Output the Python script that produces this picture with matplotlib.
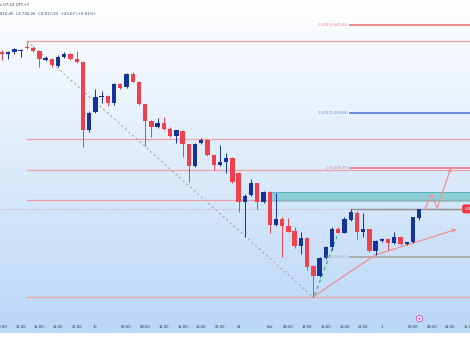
import numpy as np
import matplotlib
matplotlib.use('Agg')
import matplotlib.pyplot as plt
from matplotlib.colors import LinearSegmentedColormap

# hourly candles (bar index 0..67)
opens = [5542.2, 5530.2, 5540.8, 5545.4, 5563.9, 5557.9, 5545.4, 5504.0, 5510.0, 5478.6,
         5519.2, 5531.6, 5507.2, 5493.4, 5181.5, 5264.4, 5332.1, 5338.1, 5304.5, 5392.0,
         5377.3, 5437.2, 5404.0, 5299.9, 5224.3, 5195.3, 5212.4, 5188.4, 5153.9, 5176.9,
         5117.0, 5015.6, 5121.6, 5135.4, 5066.3, 5020.2, 5035.5, 5051.1, 4985.7, 4851.2,
         4882.0, 4935.9, 4848.4, 4897.2, 4743.8, 4770.1, 4740.6, 4717.6, 4648.5, 4685.3,
         4554.9, 4508.9, 4590.4, 4641.1, 4724.0, 4708.4, 4766.9, 4797.7, 4710.2, 4724.0,
         4625.4, 4671.5, 4679.3, 4659.5, 4689.9, 4654.9, 4664.1, 4774.3]
highs = [5547.8, 5545.4, 5557.9, 5552.4, 5577.7, 5566.2, 5550.1, 5524.7, 5515.5, 5527.0,
         5539.5, 5538.5, 5546.8, 5497.1, 5269.0, 5370.4, 5362.6, 5342.7, 5400.3, 5400.3,
         5445.5, 5446.4, 5409.5, 5301.3, 5227.6, 5236.8, 5240.0, 5195.3, 5183.8, 5181.5,
         5119.3, 5121.6, 5146.0, 5142.3, 5070.9, 5112.4, 5074.2, 5057.1, 4988.0, 4886.6,
         4954.4, 4939.6, 4900.5, 4900.5, 4892.6, 4780.7, 4774.7, 4733.2, 4713.0, 4688.5,
         4559.5, 4596.4, 4647.1, 4736.0, 4733.2, 4780.7, 4817.5, 4809.7, 4797.7, 4727.7,
         4677.0, 4683.9, 4683.9, 4713.0, 4693.2, 4667.8, 4780.7, 4818.5]
lows = [5504.0, 5507.2, 5531.6, 5516.4, 5554.7, 5540.8, 5474.0, 5500.8, 5474.0, 5471.7,
        5515.5, 5504.0, 5490.2, 5103.2, 5173.7, 5259.8, 5304.5, 5292.1, 5296.7, 5370.4,
        5375.0, 5402.6, 5296.7, 5107.8, 5150.6, 5190.7, 5181.5, 5149.2, 5120.2, 5058.5,
        4943.3, 5011.0, 5117.0, 5061.7, 4997.2, 5015.6, 4984.8, 4939.6, 4805.1, 4689.9,
        4877.4, 4816.2, 4845.2, 4708.4, 4739.2, 4595.0, 4709.3, 4636.5, 4610.2, 4536.5,
        4413.5, 4504.3, 4587.2, 4628.7, 4704.7, 4704.7, 4762.3, 4677.9, 4687.2, 4619.4,
        4605.6, 4667.8, 4628.7, 4656.3, 4653.1, 4651.7, 4660.9, 4766.3]
closes = [5531.6, 5540.8, 5553.3, 5550.1, 5559.3, 5545.4, 5507.2, 5511.8, 5479.6, 5517.8,
          5531.6, 5507.2, 5493.4, 5181.5, 5262.1, 5333.5, 5338.1, 5304.5, 5392.0, 5375.0,
          5437.2, 5404.9, 5299.9, 5224.3, 5196.7, 5213.7, 5184.7, 5153.9, 5179.2, 5117.0,
          5015.6, 5117.0, 5135.4, 5066.3, 5020.2, 5032.7, 5051.1, 4943.3, 4851.2, 4878.8,
          4935.9, 4848.4, 4897.2, 4743.8, 4770.1, 4739.2, 4713.0, 4648.5, 4685.3, 4551.7,
          4508.9, 4593.2, 4641.1, 4724.0, 4708.4, 4771.5, 4802.3, 4710.2, 4724.0, 4625.4,
          4671.5, 4679.3, 4659.5, 4689.9, 4656.3, 4664.1, 4779.3, 4817.9]

tick_pos = [0, 3, 6, 9, 12, 15, 20, 23, 26, 29, 32, 35, 38, 43, 46, 49, 52, 55, 58, 61, 66, 69, 72, 75]
tick_labels = ['09:00', '12:00', '15:00', '18:00', '21:00', '30', '06:00', '09:00', '12:00',
               '15:00', '18:00', '21:00', '31', 'Feb', '09:00', '12:00', '15:00', '18:00',
               '21:00', '3', '06:00', '09:00', '12:00', '15:00']

# drawn levels
sr_levels = [5591.5, 5138.6, 4998.6, 4859.0, 4410.7]
fib_names = ['2.618 (5.665,44)', '1.618 (5.259,68)', '1 (5.006,45)', '0 (4.596,68)']
fib_prices = [5665.44, 5259.68, 5006.45, 4596.68]
fib_colors = ['#e8808a', '#5b84d6', '#e8808a', '#a8a8a8']
zone_top, zone_bottom = 4897.2, 4848.4
resist_level = 4816.2
last_price = 4817.93

diag_x, diag_y = [4.06, 50.0], [5591.5, 4410.7]
trend_x, trend_y = [50.0, 59.9, 73.0], [4413.5, 4605.6, 4724.0]
proj_x, proj_y = [67.9, 69.0, 69.9, 72.1], [4816.0, 4886.6, 4820.8, 5007.8]
leg_x, leg_y = [50.2, 54.0], [4420.0, 4707.0]

RED = '#f0404e'
BLUE = '#15349a'
PINK = '#ee8f99'

fig = plt.figure(figsize=(4.7, 3.53), dpi=100, facecolor='white')
ax = fig.add_axes([0, 20 / 353, 1, 333 / 353])
xmin, xmax = -0.32, 75.16
ymin, ymax = 4246.3, 5780.4
ax.axis('off')

# background gradient white (top) -> light blue (bottom)
cmap = LinearSegmentedColormap.from_list('bg', ['#ffffff', '#bad7f6'])
grad = np.linspace(0, 1, 256).reshape(-1, 1)
ax.imshow(grad, extent=[xmin, xmax, ymin, ymax], origin='upper', aspect='auto', cmap=cmap, zorder=0)
ax.set_xlim(xmin, xmax)
ax.set_ylim(ymin, ymax)

# support / resistance lines
for lv in sr_levels:
    ax.plot([4.06, xmax], [lv, lv], color='#f0a0a4', lw=0.9, zorder=1)
ax.plot([4.06, 4.06], [5591.5, 5568], color='#f0a0a4', lw=0.9, zorder=1)

# fib extension levels
for name, p, col in zip(fib_names, fib_prices, fib_colors):
    ax.plot([55.9, xmax], [p, p], color=col, lw=1.3, zorder=1)
    ax.text(55.6, p, name, color=col, fontsize=2.5, ha='right', va='center', zorder=5)

# zone and price lines
ax.fill_between([43.36, xmax], zone_bottom, zone_top, color='#5bbfbf', alpha=0.6, lw=0, zorder=1)
ax.plot([43.36, xmax], [zone_top, zone_top], color='#4fb3b8', lw=0.6, zorder=1)
ax.plot([56.0, xmax], [resist_level, resist_level], color='#8a8a8a', lw=1.0, zorder=1)
ax.axhline(last_price, color='#d98a95', lw=0.6, ls=(0, (1, 2)), zorder=1)

ax.plot(diag_x, diag_y, color='#9a9a9a', lw=0.7, ls=(0, (2, 3)), zorder=1)
ax.plot(leg_x, leg_y, color='#2aa89a', lw=0.8, ls=(0, (3, 3)), zorder=1)
ax.plot(trend_x[:2], trend_y[:2], color=PINK, lw=0.9, zorder=2)
ax.annotate('', xy=(trend_x[2], trend_y[2]), xytext=(trend_x[1], trend_y[1]),
            arrowprops=dict(arrowstyle='->', color=PINK, lw=0.9, mutation_scale=5,
                            shrinkA=0, shrinkB=0))
ax.plot(proj_x[:-1], proj_y[:-1], color=PINK, lw=0.9, zorder=2)
ax.annotate('', xy=(proj_x[-1], proj_y[-1]), xytext=(proj_x[-2], proj_y[-2]),
            arrowprops=dict(arrowstyle='->', color=PINK, lw=0.9, mutation_scale=5,
                            shrinkA=0, shrinkB=0))

# candles
idx = np.arange(len(opens))
o = np.array(opens)
c = np.array(closes)
colors = [BLUE if cl >= op else RED for op, cl in zip(opens, closes)]
ax.vlines(idx, lows, highs, colors=colors, lw=0.7, zorder=3)
body = np.maximum(np.abs(c - o), 5)
ax.bar(idx, body, bottom=np.minimum(o, c), width=0.7, color=colors, lw=0, zorder=4)

# time axis labels inside the band
xt = ax.get_xaxis_transform()
for k, lab in zip(tick_pos, tick_labels):
    ax.text(k, 6 / 333, lab, transform=xt, fontsize=2.6, color='#333333', ha='center', va='center')

# event marker
ax.plot([67.0], [14.7 / 333], transform=xt, marker='o', ms=4.5, mfc='white', mec='#cc55cc', mew=0.7, zorder=6)
ax.plot([67.0], [14.7 / 333], transform=xt, marker='.', ms=1.5, color='#cc55cc', zorder=7)

# last price tag
ax.text(74.3, last_price, '4.817,93', fontsize=3, color='white', ha='left', va='center', zorder=8,
        bbox=dict(boxstyle='round,pad=0.6', fc='#f23645', ec='none'))

# header
fig.text(0.0, 1 - 5 / 353, 's 07:24 UTC+7', fontsize=2.8, color='#3a3a55', va='center')
fig.text(0.0, 1 - 14 / 353, '818,46  L4.766,26  C4.817,93  +43,67 (+0,91%)', fontsize=2.8,
         color='#2f4a8c', va='center')

fig.savefig('out.png', dpi=100, facecolor='white')
